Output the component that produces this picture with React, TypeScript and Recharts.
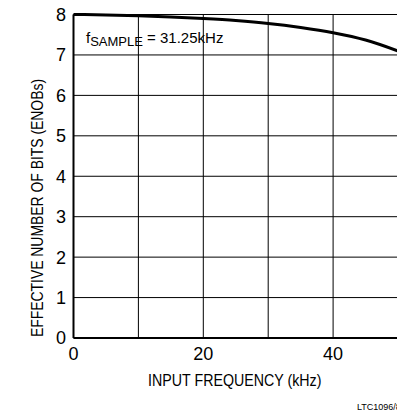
import React from "react";
import { LineChart, Line, XAxis, YAxis, CartesianGrid, Customized } from "recharts";

const freqKHz = [0, 5, 10, 15, 20, 25, 30, 35, 40, 45, 50];
const enob = [8.0, 7.99, 7.97, 7.94, 7.9, 7.85, 7.78, 7.68, 7.55, 7.37, 7.1];
const xTicks = [0, 10, 20, 30, 40, 50];
const xLabeled = [0, 20, 40];
const yTicks = [0, 1, 2, 3, 4, 5, 6, 7, 8];

const data = freqKHz.map((f, i) => ({ f, enob: enob[i] }));

const FONT = '"Liberation Sans", Arial, Helvetica, sans-serif';

export default function App() {
  return (
    <div style={{ position: "absolute", left: 0, top: 0, width: 397, height: 410, overflow: "hidden", background: "#fff" }}>
      <LineChart
        width={398}
        height={410}
        data={data}
        margin={{ top: 14.5, right: 0, bottom: 22, left: 13.5 }}
      >
        <CartesianGrid stroke="#000" strokeWidth={1} horizontal vertical />
        <XAxis
          dataKey="f"
          type="number"
          domain={[0, 50]}
          ticks={xTicks}
          tickFormatter={(v: number) => (xLabeled.includes(v) ? String(v) : "")}
          tickLine={false}
          axisLine={{ stroke: "#000", strokeWidth: 2 }}
          tick={{ fill: "#000", fontSize: 18, fontFamily: FONT }}
          tickMargin={3.5}
          height={50}
          label={{
            content: (props: any) => {
              const vb = props.viewBox || {};
              const cx = (vb.x ?? 73.5) + (vb.width ?? 325) / 2 - 1;
              const cy = 386;
              return (
                <text
                  transform={`translate(${cx}, ${cy}) scale(0.89, 1)`}
                  textAnchor="middle"
                  fill="#000"
                  fontSize={16}
                  fontFamily={FONT}
                >
                  INPUT FREQUENCY (kHz)
                </text>
              );
            },
          }}
        />
        <YAxis
          type="number"
          domain={[0, 8]}
          ticks={yTicks}
          tickLine={false}
          axisLine={{ stroke: "#000", strokeWidth: 2 }}
          tick={{ fill: "#000", fontSize: 18, fontFamily: FONT }}
          tickMargin={1.5}
          width={60}
          interval={0}
          label={{
            content: (props: any) => {
              const vb = props.viewBox || {};
              const cx = (vb.x ?? 13.5) + 24;
              const cy = 208;
              return (
                <text
                  transform={`translate(${cx}, ${cy}) rotate(-90) scale(0.87, 1)`}
                  textAnchor="middle"
                  dominantBaseline="central"
                  fill="#000"
                  fontSize={16}
                  fontFamily={FONT}
                >
                  EFFECTIVE NUMBER OF BITS (ENOBs)
                </text>
              );
            },
          }}
        />
        <Line
          type="monotone"
          dataKey="enob"
          stroke="#000"
          strokeWidth={3}
          dot={false}
          isAnimationActive={false}
        />
        <Customized
          component={() => (
            <g>
              <text x={86} y={42.7} fill="#000" fontSize={15} fontFamily={FONT}>
                f
                <tspan fontSize={13} dy={3}>SAMPLE</tspan>
                <tspan dy={-3}> = 31.25kHz</tspan>
              </text>
              <text x={357} y={410} fill="#000" fontSize={9} fontFamily={FONT}>
                LTC1096/8 • F12
              </text>
            </g>
          )}
        />
      </LineChart>
    </div>
  );
}
